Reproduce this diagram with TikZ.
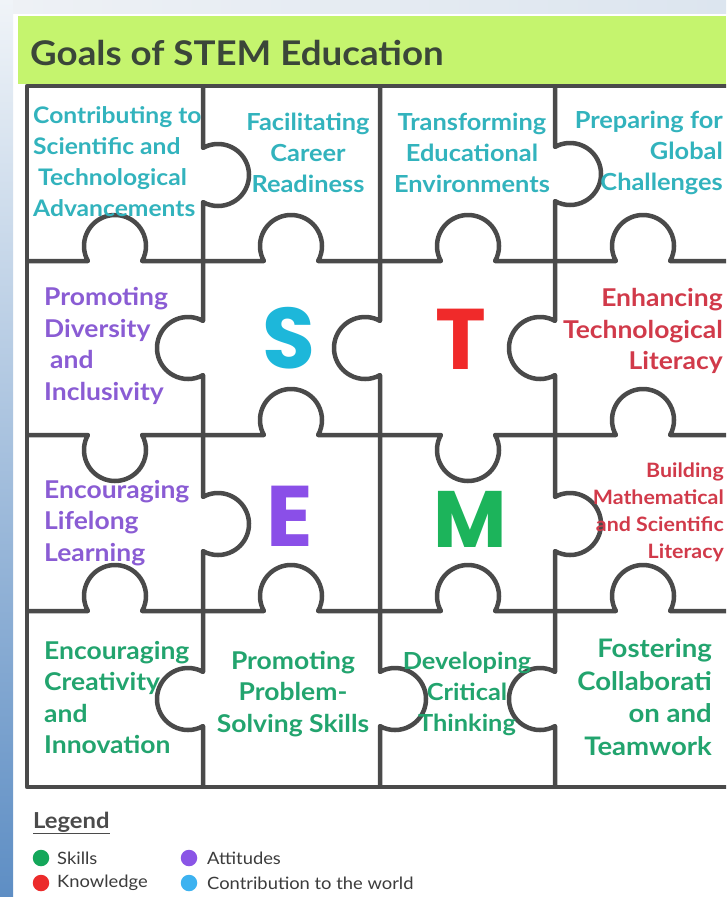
\documentclass[tikz,border=0pt]{standalone}
\usepackage{fontspec}
\setmainfont{Lato}
\newfontfamily\cellfont[FakeStretch=1.08]{Lato}
\newfontfamily\bigfont{Poppins}
\definecolor{gridc}{HTML}{4A4A4A}
\definecolor{hdrgreen}{HTML}{C5F46E}
\definecolor{titlec}{HTML}{3B4639}
\definecolor{tealc}{HTML}{32B3BD}
\definecolor{purpc}{HTML}{8A5CD4}
\definecolor{redc}{HTML}{D13A4A}
\definecolor{greenc}{HTML}{22A46E}
\definecolor{bigS}{HTML}{1DB7DA}
\definecolor{bigT}{HTML}{F02A2A}
\definecolor{bigE}{HTML}{8A4FE8}
\definecolor{bigM}{HTML}{1CB45B}
\definecolor{dotG}{HTML}{14A75A}
\definecolor{dotR}{HTML}{EC2B2B}
\definecolor{dotP}{HTML}{8A55E6}
\definecolor{dotB}{HTML}{3DB2F0}
\definecolor{legc}{HTML}{3C3C3C}
\definecolor{legh}{HTML}{4B4B4B}
\definecolor{stripTop}{HTML}{F0F4F8}
\definecolor{stripMid}{HTML}{C8D8E8}
\definecolor{stripBot}{HTML}{5E8EC4}
\definecolor{topL}{HTML}{EEF1F5}
\definecolor{topR}{HTML}{DCE5EF}
\newcommand\vR[2]{-- (#1,-#2+27.12) arc[start angle=118.94,end angle=-118.94,radius=31]}
\newcommand\vL[2]{-- (#1,-#2+27.12) arc[start angle=61.06,end angle=298.94,radius=31]}
\newcommand\hU[2]{-- (#2-27.12,-#1) arc[start angle=208.94,end angle=-28.94,radius=31]}
\newcommand\hD[2]{-- (#2-27.12,-#1) arc[start angle=151.06,end angle=388.94,radius=31]}
\tikzset{
  gridline/.style={draw=gridc, line width=4.5pt, line join=round},
  celltxt/.style={font=\cellfont\fontsize{23.5}{31}\selectfont\bfseries, inner sep=0pt},
  celltxtB/.style={font=\cellfont\fontsize{24.5}{31.5}\selectfont\bfseries, inner sep=0pt},
  smalltxt/.style={font=\cellfont\fontsize{19.8}{27}\selectfont\bfseries, inner sep=0pt},
  bigletter/.style={font=\bigfont\fontsize{86}{86}\selectfont\bfseries, inner sep=0pt},
  legdot/.style={circle, minimum size=16.5pt, inner sep=0pt},
  legtxt/.style={font=\cellfont\fontsize{17}{18}\selectfont, text=legc, inner sep=0pt, anchor=west},
}
\begin{document}
\begin{tikzpicture}[x=1pt,y=1pt]
\useasboundingbox (0,0) rectangle (726,-897);
\clip (0,0) rectangle (726,-897);
% background
\fill[white] (0,0) rectangle (726,-897);
\shade[top color=stripTop, middle color=stripMid, bottom color=stripBot] (0,0) rectangle (13,-897);
\shade[left color=topL, right color=topR] (13,0) rectangle (726,-13);
\fill[hdrgreen] (18,-16) rectangle (726,-84);
\node[anchor=base west, font=\cellfont\fontsize{34}{34}\selectfont\bfseries, text=titlec, inner sep=0pt] (title) at (30,-65) {Goals of STEM Education};
% grid
\draw[gridline] (203,-86) \vR{203}{175} \vL{203}{348} \vR{203}{524} \vL{203}{699} -- (203,-787);
\draw[gridline] (380,-86) \vL{380}{348} \vR{380}{699} -- (380,-787);
\draw[gridline] (555,-86) \vR{555}{174} \vL{555}{348} \vR{555}{524} \vL{555}{699} -- (555,-787);
\draw[gridline] (27,-261) \hU{261}{115} \hU{261}{291} \hU{261}{468} \hU{261}{643} -- (731,-261);
\draw[gridline] (27,-435) \hD{435}{115} \hU{435}{291} \hD{435}{468} \hU{435}{643} -- (731,-435);
\draw[gridline] (27,-611) \hU{611}{115} \hU{611}{291} \hU{611}{468} \hU{611}{643} -- (731,-611);
\draw[gridline] (27,-86) rectangle (731,-787);
% row 1
\node[celltxt, text=tealc, align=left, anchor=west, font=\cellfont\fontsize{22.8}{31}\selectfont\bfseries] (c11) at (33,-161.5) {Contributing to\\Scientific and\\\hspace*{5pt}Technological\\Advancements};
\node[celltxt, text=tealc, align=center] (c12) at (308,-153) {Facilitating\\Career\\Readiness};
\node[celltxt, text=tealc, align=center] (c13) at (472,-153) {Transforming\\Educational\\Environments};
\node[celltxt, text=tealc, align=right, anchor=east] (c14) at (723,-153) {Preparing for\\Global\\Challenges};
% row 2
\node[celltxtB, text=purpc, align=left, anchor=west] (c21) at (44,-346) {Promoting\\Diversity\\\hspace*{6pt}and\\Inclusivity};
\node[bigletter, text=bigS] (S) at (289,-338) {S};
\node[bigletter, text=bigT] (T) at (461,-339) {T};
\node[celltxtB, text=redc, align=right, anchor=east] (c24) at (723,-331) {Enhancing\\Technological\\Literacy};
% row 3
\node[celltxtB, text=purpc, align=left, anchor=west] (c31) at (44,-523) {Encouraging\\Lifelong\\Learning};
\node[bigletter, text=bigE] (E) at (290,-516) {E};
\node[bigletter, text=bigM, font=\bigfont\fontsize{80}{80}\selectfont\bfseries] (M) at (470,-519) {M};
\node[smalltxt, text=redc, align=right, anchor=east] (c34) at (724,-512.5) {Building\\Mathematical\\and Scientific\\Literacy};
% row 4
\node[celltxtB, text=greenc, align=left, anchor=west] (c41) at (44,-697.5) {Encouraging\\Creativity\\and\\Innovation};
\node[celltxtB, text=greenc, align=center] (c42) at (293,-694) {Promoting\\Problem-\\Solving Skills};
\node[celltxt, text=greenc, align=center] (c43) at (467,-694) {Developing\\Critical\\Thinking};
\node[celltxtB, text=greenc, align=right, anchor=east, font=\cellfont\fontsize{25.5}{32.5}\selectfont\bfseries] (c44) at (712,-697) {Fostering\\Collaborati\\on and\\Teamwork};
% legend
\node[anchor=west, font=\cellfont\fontsize{22}{24}\selectfont\bfseries, text=legh, inner sep=0pt] (leg) at (33,-823) {\underline{Legend}};
\node[legdot, fill=dotG] (dg) at (41,-858) {};
\node[legtxt] (tg) at (57,-858) {Skills};
\node[legdot, fill=dotR] (dr) at (41,-883) {};
\node[legtxt] (tr) at (57,-883) {Knowledge};
\node[legdot, fill=dotP] (dp) at (189,-858) {};
\node[legtxt] (tp) at (207,-858) {Attitudes};
\node[legdot, fill=dotB] (db) at (189,-883) {};
\node[legtxt] (tb) at (207,-883) {Contribution to the world};
\end{tikzpicture}
\end{document}
